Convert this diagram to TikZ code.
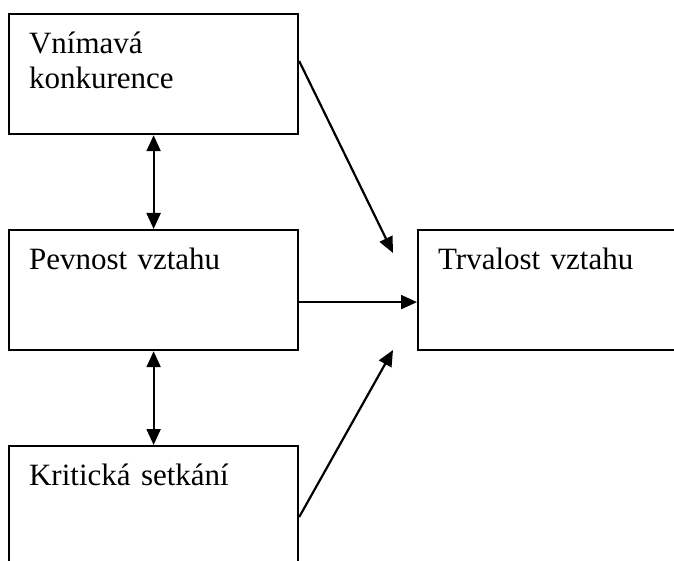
\documentclass[tikz,border=0pt]{standalone}
\usepackage{fontspec}
\setmainfont{Liberation Serif}
\usepackage{tikz}
\usetikzlibrary{arrows.meta}
\newcommand\nodevk{Vnímavá\\konkurence}
\newcommand\nodepv{Pevnost vztahu}
\newcommand\nodeks{Kritická setkání}
\newcommand\nodetv{Trvalost vztahu}
\tikzstyle{mynodestyle} = [rectangle, draw, anchor=north west, align=left, inner xsep=20pt, inner ysep=17pt, text height=22pt, text depth=64pt, font=\fontsize{31}{35}\selectfont]
\tikzstyle{lb} = [mynodestyle, text width=249pt]
\tikzstyle{rb} = [mynodestyle, text width=233pt]
\tikzset{>={Triangle[length=16pt,width=14pt]}, every picture/.style={line width=2.2pt}}
\begin{document}
\begin{tikzpicture}[x=1pt, y=1pt]
\useasboundingbox (0, 0) rectangle (674, -561);
\node[lb] (vk) at (8, -13) {\nodevk};
\node[lb] (pv) at (8, -229) {\nodepv};
\node[lb, text depth=80pt] (ks) at (8, -445) {\nodeks};
\node[rb] (tv) at (417, -229) {\nodetv};
\coordinate (intop) at (393, -253);
\coordinate (inbot) at (393, -350);
\draw [<->] (vk) -- (pv);
\draw [<->] (pv) -- (ks);
\draw [->] ([yshift=13pt]vk.east) -- (intop);
\draw [->] ([yshift=-12pt]pv.east) -- ([yshift=-12pt]tv.west);
\draw [->] ([yshift=-72pt]ks.north east) -- (inbot);
\end{tikzpicture}
\end{document}
